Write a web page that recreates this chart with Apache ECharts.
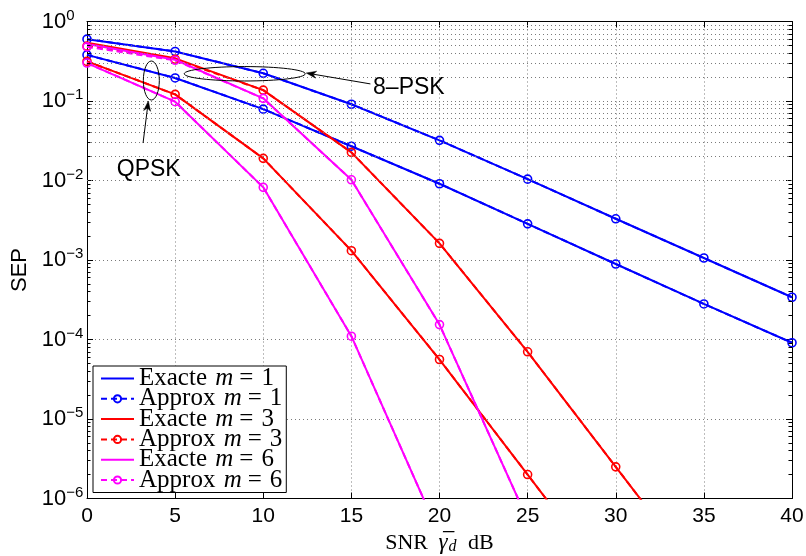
<!DOCTYPE html>
<html><head><meta charset="utf-8">
<script src="https://cdn.jsdelivr.net/npm/echarts@6/dist/echarts.min.js"></script>
<style>html,body{margin:0;padding:0;background:#fff}#c{width:806px;height:556px}</style>
</head><body><div id="c"></div>
<script>
// ---- data ----
const snr = [0, 5, 10, 15, 20, 25, 30, 35, 40];
const xTicks = [0, 5, 10, 15, 20, 25, 30, 35, 40];
const yTickExponents = [0, -1, -2, -3, -4, -5, -6];

// m = 1 (blue)
const exact8pskM1  = [0.60, 0.42, 0.223, 0.091, 0.032, 0.0104, 0.0033, 0.00106, 0.00034];
const approx8pskM1 = [0.60, 0.42, 0.223, 0.091, 0.032, 0.0104, 0.0033, 0.00106, 0.00034];
const exactQpskM1  = [0.38, 0.195, 0.079, 0.027, 0.0091, 0.00285, 0.00089, 0.00028, 0.000091];
const approxQpskM1 = [0.38, 0.195, 0.079, 0.027, 0.0091, 0.00285, 0.00089, 0.00028, 0.000091];
// m = 3 (red)
const exact8pskM3  = [0.54, 0.344, 0.137, 0.0226, 0.00162, 0.00007, 0.0000025, 0.00000009];
const approx8pskM3 = [0.49, 0.335, 0.137, 0.0226, 0.00162, 0.00007, 0.0000025, 0.00000009];
const exactQpskM3  = [0.315, 0.121, 0.019, 0.00131, 0.000056, 0.000002, 0.00000007];
const approxQpskM3 = [0.315, 0.121, 0.019, 0.00131, 0.000056, 0.000002, 0.00000007];
// m = 6 (magenta)
const exact8pskM6  = [0.52, 0.33, 0.108, 0.0102, 0.000154, 0.00000054];
const approx8pskM6 = [0.48, 0.325, 0.108, 0.0102, 0.000154, 0.00000054];
const exactQpskM6  = [0.30, 0.098, 0.0082, 0.00011, 0.00000035];
const approxQpskM6 = [0.30, 0.098, 0.0082, 0.00011, 0.00000035];

const legendNames = ['Exacte m = 1', 'Approx m = 1', 'Exacte m = 3', 'Approx m = 3', 'Exacte m = 6', 'Approx m = 6'];
const colors = ['#0000ff', '#ff0000', '#ff00ff'];

// annotation anchors (data coordinates)
const ell8psk = [8.95, 0.22], ellQpsk = [3.65, 0.181];
const arr8pskTip = [12.44, 0.225], arr8pskTail = [16.08, 0.164], txt8psk = [16.23, 0.148];
const arrQpskTip = [3.48, 0.1], arrQpskTail = [3.18, 0.0296], txtQpsk = [1.69, 0.01367];

// ---- chart ----
const chart = echarts.init(document.getElementById('c'), null, {renderer: 'canvas'});
const pts = vals => vals.map((v, i) => [snr[i], v]);

function mk(name, vals, color, approx) {
  return {
    type: 'line', name, data: pts(vals), xAxisIndex: 0, yAxisIndex: 0,
    symbol: approx ? 'circle' : 'none', showSymbol: approx, symbolSize: 8,
    lineStyle: {color, width: 2, type: approx ? [6, 4] : 'solid'},
    itemStyle: approx ? {color: 'rgba(255,255,255,0)', borderColor: color, borderWidth: 1.6} : {color},
    emphasis: {disabled: true}, clip: true, animation: false, silent: true
  };
}

// minor decoration: log minor grid lines and minor ticks (computed, not data)
const minorVals = [];
for (let e = -6; e < 0; e++) for (let k = 2; k <= 9; k++) minorVals.push(k * Math.pow(10, e));
const dotted = {color: '#7a7a7a', type: [1, 3], width: 1};
const decoSeries = {
  type: 'line', data: [], xAxisIndex: 0, yAxisIndex: 0, silent: true, animation: false,
  markLine: {
    silent: true, symbol: 'none', animation: false, label: {show: false},
    lineStyle: dotted, emphasis: {disabled: true},
    data: minorVals.map(v => ({yAxis: v}))
  }
};
const tickSeries = {
  type: 'line', data: [], xAxisIndex: 0, yAxisIndex: 0, silent: true, animation: false,
  markLine: {
    silent: true, symbol: 'none', animation: false, label: {show: false},
    lineStyle: {color: '#000', type: 'solid', width: 1}, emphasis: {disabled: true},
    data: minorVals.flatMap(v => [
      [{coord: [0, v]}, {coord: [0.2, v]}],
      [{coord: [40, v]}, {coord: [39.8, v]}]
    ])
  }
};

const legendFmt = n => {
  const p = n.split(' ');
  return '{t|' + p[0] + ' }{m|m}{e|=}{t|' + p[3] + '}';
};
const linePath = 'path://M0,0L33,0L33,2L0,2Z';

const serif = 'Liberation Serif';
const axisLineStyle = {show: true, onZero: false, lineStyle: {color: '#000', width: 1}};
const option = {
  backgroundColor: '#fff',
  animation: false,
  grid: {left: 87, right: 14, top: 21.5, bottom: 57.5, containLabel: false, outerBoundsMode: 'none'},
  legend: {
    left: 93, top: 366, orient: 'vertical', itemGap: -4.7, itemWidth: 33, itemHeight: 9,
    padding: [0, 4, 0, 7], backgroundColor: '#fff', borderColor: '#000', borderWidth: 1, borderRadius: 0,
    selectedMode: false,
    data: legendNames.map((n, i) => i % 2 === 0 ? {name: n, icon: linePath} : {name: n}),
    formatter: legendFmt,
    textStyle: {
      color: '#000', fontFamily: serif, fontSize: 25, lineHeight: 20.5,
      rich: {
        t: {fontFamily: serif, fontSize: 25, lineHeight: 20.5, color: '#000'},
        m: {fontFamily: serif, fontStyle: 'italic', fontSize: 25, lineHeight: 20.5, color: '#000', padding: [0, 0, 0, 2]},
        e: {fontFamily: serif, fontSize: 25, lineHeight: 20.5, color: '#000', padding: [0, 8, 0, 6]}
      }
    }
  },
  xAxis: [
    {
      type: 'value', min: 0, max: 40, interval: 5, position: 'bottom',
      axisLine: axisLineStyle,
      axisTick: {inside: true, length: 6, lineStyle: {color: '#000'}},
      axisLabel: {
        color: '#000', fontFamily: 'Liberation Sans', fontSize: 21, margin: 7,
        formatter: v => xTicks.includes(v) ? String(v) : ''
      },
      splitLine: {show: true, lineStyle: dotted},
      name: '{r|SNR }{g|\u03b3\u0305}{s|d}{r| dB}',
      nameLocation: 'middle', nameGap: 27,
      nameTextStyle: {
        color: '#000',
        rich: {
          r: {fontFamily: serif, fontSize: 22, lineHeight: 24, color: '#000'},
          g: {fontFamily: serif, fontStyle: 'italic', fontSize: 23, lineHeight: 24, color: '#000', padding: [0, 1, 0, 5]},
          s: {fontFamily: serif, fontStyle: 'italic', fontSize: 16, lineHeight: 15, verticalAlign: 'bottom', color: '#000', padding: [0, 6, 0, 0]}
        }
      }
    },
    {
      type: 'value', min: 0, max: 40, interval: 5, position: 'top',
      axisLine: axisLineStyle,
      axisTick: {inside: true, length: 6, lineStyle: {color: '#000'}},
      axisLabel: {show: false}, splitLine: {show: false}
    }
  ],
  yAxis: [
    {
      type: 'log', logBase: 10, min: 1e-6, max: 1, splitNumber: 6, position: 'left',
      axisLine: axisLineStyle,
      axisTick: {inside: true, length: 6, lineStyle: {color: '#000'}},
      axisLabel: {
        align: 'left', margin: 45.3, color: '#000',
        formatter: v => {
          const e = Math.round(Math.log10(v));
          if (!yTickExponents.includes(e)) return '';
          return '{b|10}{s|' + String(e).replace('-', '\u2212') + '}';
        },
        rich: {
          b: {fontFamily: 'Liberation Sans', fontSize: 22, lineHeight: 27, color: '#000'},
          s: {fontFamily: 'Liberation Sans', fontSize: 15, lineHeight: 15, verticalAlign: 'top', color: '#000'}
        }
      },
      splitLine: {show: true, lineStyle: dotted},
      name: 'SEP', nameLocation: 'middle', nameGap: 56,
      nameTextStyle: {color: '#000', fontFamily: 'Liberation Sans', fontSize: 22, lineHeight: 22, padding: [0, 20, 0, 0]}
    },
    {
      type: 'log', logBase: 10, min: 1e-6, max: 1, splitNumber: 6, position: 'right',
      axisLine: axisLineStyle,
      axisTick: {inside: true, length: 6, lineStyle: {color: '#000'}},
      axisLabel: {show: false}, splitLine: {show: false}
    }
  ],
  series: [
    decoSeries, tickSeries,
    mk('Exacte m = 1', exact8pskM1, colors[0], false),
    mk('Exacte m = 1', exactQpskM1, colors[0], false),
    mk('Approx m = 1', approx8pskM1, colors[0], true),
    mk('Approx m = 1', approxQpskM1, colors[0], true),
    mk('Exacte m = 3', exact8pskM3, colors[1], false),
    mk('Exacte m = 3', exactQpskM3, colors[1], false),
    mk('Approx m = 3', approx8pskM3, colors[1], true),
    mk('Approx m = 3', approxQpskM3, colors[1], true),
    mk('Exacte m = 6', exact8pskM6, colors[2], false),
    mk('Exacte m = 6', exactQpskM6, colors[2], false),
    mk('Approx m = 6', approx8pskM6, colors[2], true),
    mk('Approx m = 6', approxQpskM6, colors[2], true)
  ]
};
chart.setOption(option);

// ---- annotations (ellipses, arrows, labels) anchored in data coordinates ----
const px = c => chart.convertToPixel({gridIndex: 0}, c);
function arrow(tailD, tipD) {
  const a = px(tailD), b = px(tipD);
  const dx = b[0] - a[0], dy = b[1] - a[1], L = Math.hypot(dx, dy);
  const ux = dx / L, uy = dy / L, nx = -uy, ny = ux;
  const hl = 10, hw = 3.5;
  const bx = b[0] - ux * hl, by = b[1] - uy * hl;
  return [
    {type: 'line', shape: {x1: a[0], y1: a[1], x2: bx + ux * 3, y2: by + uy * 3}, style: {stroke: '#000', lineWidth: 1}, z: 10},
    {type: 'polygon', shape: {points: [[b[0], b[1]], [bx + nx * hw, by + ny * hw], [b[0] - ux * hl * 0.7, b[1] - uy * hl * 0.7], [bx - nx * hw, by - ny * hw]]},
     style: {fill: '#000', stroke: '#000', lineWidth: 0.5}, z: 10}
  ];
}
const e8 = px(ell8psk), eq = px(ellQpsk), t8 = px(txt8psk), tq = px(txtQpsk);
chart.setOption({
  graphic: [
    {type: 'ellipse', shape: {cx: e8[0], cy: e8[1], rx: 60.5, ry: 7.2}, style: {fill: 'none', stroke: '#000', lineWidth: 1}, z: 10, silent: true},
    {type: 'ellipse', shape: {cx: eq[0], cy: eq[1], rx: 8, ry: 19.5}, style: {fill: 'none', stroke: '#000', lineWidth: 1}, z: 10, silent: true},
    ...arrow(arr8pskTail, arr8pskTip),
    ...arrow(arrQpskTail, arrQpskTip),
    {type: 'text', x: t8[0], y: t8[1], style: {text: '8\u2013PSK', fontFamily: 'Liberation Sans', fontSize: 23, fill: '#000', align: 'left', verticalAlign: 'middle'}, z: 10},
    {type: 'text', x: tq[0], y: tq[1], style: {text: 'QPSK', fontFamily: 'Liberation Sans', fontSize: 23, fill: '#000', align: 'left', verticalAlign: 'middle'}, z: 10}
  ]
});
</script>
</body></html>
